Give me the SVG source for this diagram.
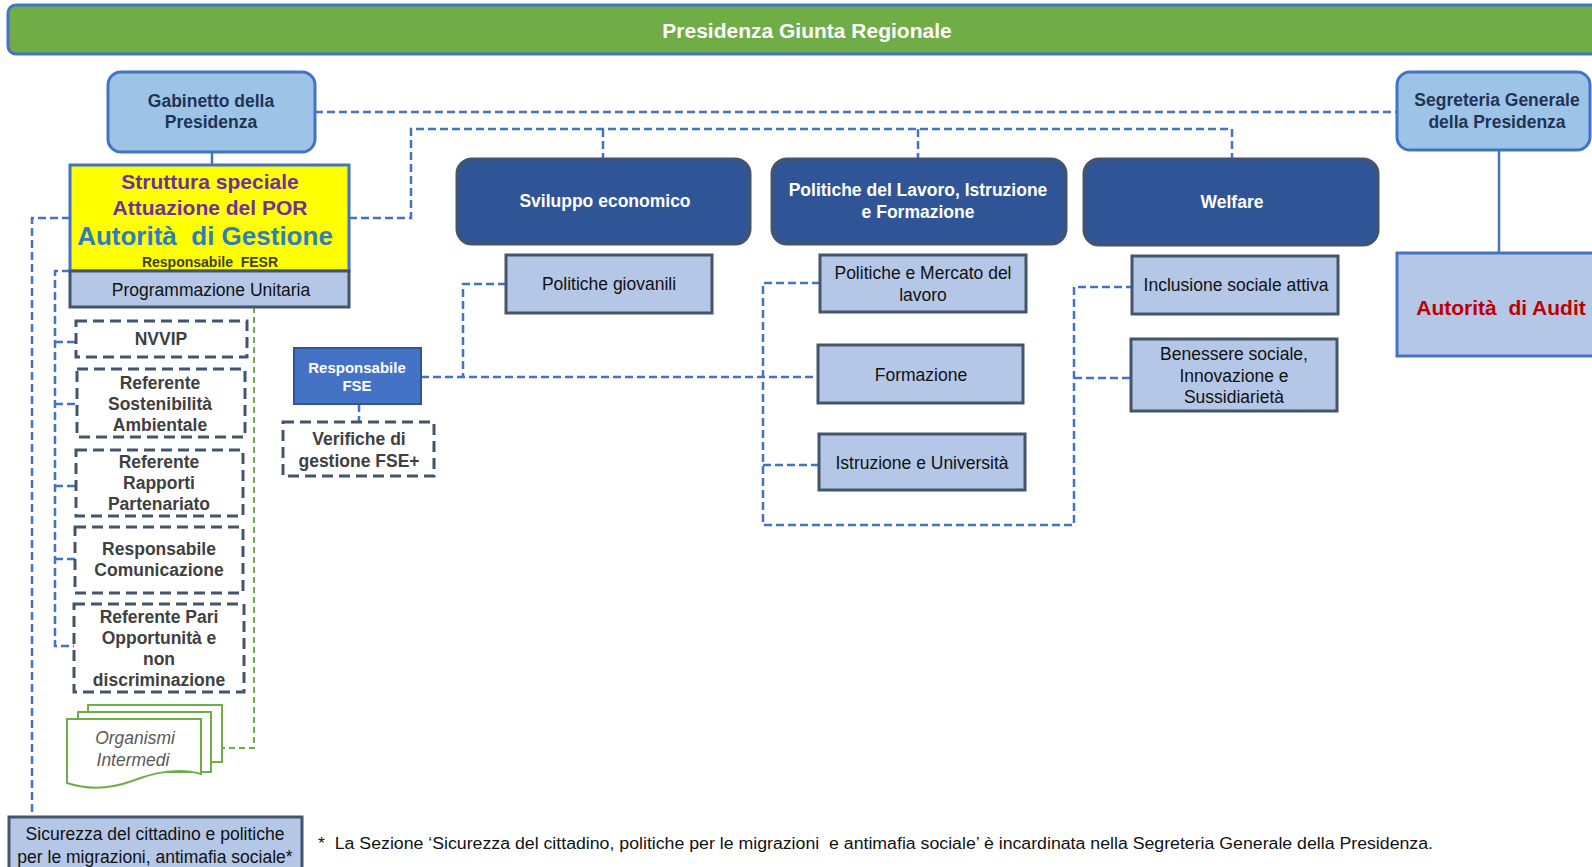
<svg xmlns="http://www.w3.org/2000/svg" width="1592" height="867" viewBox="0 0 1592 867">
  <style>
    text { font-family: "Liberation Sans", Arial, sans-serif; text-anchor: middle; dominant-baseline: central; }
    .b { font-weight: bold; }
    .head { fill: #9DC3E6; stroke: #4472C4; stroke-width: 3; }
    .dept { fill: #2F5597; stroke: #44546A; stroke-width: 3; }
    .unit { fill: #B4C7E7; stroke: #44546A; stroke-width: 3; }
    .dbox { fill: #FFFFFF; stroke: #44546A; stroke-width: 3; stroke-dasharray: 11 6; }
    .doc { fill: #FFFFFF; stroke: #70AD47; stroke-width: 2; }
    .link { fill: none; stroke: #4472C4; stroke-width: 2.5; stroke-dasharray: 8 4; }
    .solid { fill: none; stroke: #4472C4; stroke-width: 2.5; }
    .glink { fill: none; stroke: #70AD47; stroke-width: 2; stroke-dasharray: 6 4; }
    .t-head { font-size: 17.5px; font-weight: bold; fill: #223354; }
    .t-dept { font-size: 17.5px; font-weight: bold; fill: #FFFFFF; }
    .t-unit { font-size: 17.5px; fill: #111111; }
    .t-gray { font-size: 17.5px; font-weight: bold; fill: #404040; }
  </style>

  <!-- connectors -->
  <g id="connectors">
    <!-- Gabinetto to Segreteria Generale -->
    <path class="link" d="M315,112 H1397"/>
    <!-- Struttura speciale to the three departments -->
    <path class="link" d="M349,218 H411 V129 H1232"/>
    <path class="link" d="M603,129 V159"/>
    <path class="link" d="M918,129 V159"/>
    <path class="link" d="M1232,129 V159"/>
    <!-- Gabinetto to Struttura speciale -->
    <path class="solid" d="M212,152 V165"/>
    <!-- Segreteria to Autorità di Audit -->
    <path class="solid" d="M1499,150 V253"/>
    <!-- outer left line to Sicurezza -->
    <path class="link" d="M70,218 H32 V817"/>
    <!-- inner left line to staff units -->
    <path class="link" d="M70,271 H55 V646 H75"/>
    <path class="link" d="M55,342 H76"/>
    <path class="link" d="M55,404 H77"/>
    <path class="link" d="M55,486 H76"/>
    <path class="link" d="M55,559 H75"/>
    <!-- Organismi intermedi -->
    <path class="glink" d="M254,307 V748 H222"/>
    <!-- Responsabile FSE network -->
    <path class="link" d="M421,377 H818"/>
    <path class="link" d="M506,284 H463 V377"/>
    <path class="link" d="M820,283 H763 V525 H1074 V287 H1132"/>
    <path class="link" d="M763,465 H819"/>
    <path class="link" d="M1074,378 H1131"/>
    <path class="link" d="M359,404 V422"/>
  </g>

  <!-- top bar -->
  <g id="presidenza">
    <rect x="8" y="5" width="1600" height="49" rx="8" fill="#70AD47" stroke="#4472C4" stroke-width="3"/>
    <text x="807" y="30" class="b" font-size="21" fill="#FFFFFF">Presidenza Giunta Regionale</text>
  </g>

  <g id="gabinetto">
    <rect class="head" x="108" y="72" width="207" height="80" rx="13"/>
    <text class="t-head" x="211" y="101">Gabinetto della</text>
    <text class="t-head" x="211" y="122">Presidenza</text>
  </g>

  <g id="segreteria">
    <rect class="head" x="1397" y="72" width="193" height="78" rx="13"/>
    <text class="t-head" x="1497" y="100">Segreteria Generale</text>
    <text class="t-head" x="1497" y="122">della Presidenza</text>
  </g>

  <g id="audit">
    <rect x="1397" y="253" width="210" height="103" fill="#B4C7E7" stroke="#4472C4" stroke-width="3"/>
    <text x="1501" y="307" class="b" font-size="21" fill="#C00000" xml:space="preserve">Autorità  di Audit</text>
  </g>

  <g id="struttura">
    <rect x="70" y="165" width="279" height="106" fill="#FFFF00" stroke="#4472C4" stroke-width="3"/>
    <text x="210" y="181" class="b" font-size="21" fill="#7030A0">Struttura speciale</text>
    <text x="210" y="207" class="b" font-size="21" fill="#7030A0">Attuazione del POR</text>
    <text x="205" y="236" class="b" font-size="26" fill="#2E7DBF" xml:space="preserve">Autorità  di Gestione</text>
    <text x="210" y="262" class="b" font-size="14" fill="#403F26" xml:space="preserve">Responsabile  FESR</text>
  </g>

  <g id="programmazione">
    <rect class="unit" x="70" y="271" width="279" height="36"/>
    <text class="t-unit" x="211" y="290">Programmazione Unitaria</text>
  </g>

  <g id="nvvip">
    <rect class="dbox" x="76" y="321" width="171" height="36"/>
    <text class="t-gray" x="161" y="339">NVVIP</text>
  </g>

  <g id="sostenibilita">
    <rect class="dbox" x="77" y="369" width="168" height="68"/>
    <text class="t-gray" x="160" y="383">Referente</text>
    <text class="t-gray" x="160" y="404">Sostenibilità</text>
    <text class="t-gray" x="160" y="425">Ambientale</text>
  </g>

  <g id="partenariato">
    <rect class="dbox" x="76" y="450" width="167" height="66"/>
    <text class="t-gray" x="159" y="462">Referente</text>
    <text class="t-gray" x="159" y="483">Rapporti</text>
    <text class="t-gray" x="159" y="504">Partenariato</text>
  </g>

  <g id="comunicazione">
    <rect class="dbox" x="75" y="527" width="168" height="66"/>
    <text class="t-gray" x="159" y="549">Responsabile</text>
    <text class="t-gray" x="159" y="570">Comunicazione</text>
  </g>

  <g id="pari-opportunita">
    <rect class="dbox" x="74" y="604" width="170" height="88"/>
    <text class="t-gray" x="159" y="617">Referente Pari</text>
    <text class="t-gray" x="159" y="638">Opportunità e</text>
    <text class="t-gray" x="159" y="659">non</text>
    <text class="t-gray" x="159" y="680">discriminazione</text>
  </g>

  <g id="organismi">
    <rect class="doc" x="88" y="705" width="134" height="57"/>
    <rect class="doc" x="78" y="712" width="133" height="60"/>
    <path class="doc" d="M67,719 H201 V774 C178,767 155,772 132,781 C110,789 88,790 67,783 Z"/>
    <text x="135" y="738" font-size="17.5" font-style="italic" fill="#595959">Organismi</text>
    <text x="133" y="760" font-size="17.5" font-style="italic" fill="#595959">Intermedi</text>
  </g>

  <g id="sicurezza">
    <rect class="unit" x="9" y="817" width="293" height="60"/>
    <text class="t-unit" x="155" y="834">Sicurezza del cittadino e politiche</text>
    <text class="t-unit" x="155" y="857">per le migrazioni, antimafia sociale*</text>
  </g>

  <g id="responsabile-fse">
    <rect x="294" y="348" width="127" height="56" fill="#4472C4" stroke="#2F5597" stroke-width="2"/>
    <text x="357" y="367" class="b" font-size="15" fill="#FFFFFF">Responsabile</text>
    <text x="357" y="385" class="b" font-size="15" fill="#FFFFFF">FSE</text>
  </g>

  <g id="verifiche">
    <rect class="dbox" x="283" y="422" width="151" height="54"/>
    <text class="t-gray" x="359" y="439">Verifiche di</text>
    <text class="t-gray" x="359" y="461">gestione FSE+</text>
  </g>

  <g id="sviluppo">
    <rect class="dept" x="457" y="159" width="293" height="85" rx="15"/>
    <text class="t-dept" x="605" y="201">Sviluppo economico</text>
  </g>

  <g id="lavoro">
    <rect class="dept" x="772" y="159" width="294" height="85" rx="15"/>
    <text class="t-dept" x="918" y="190">Politiche del Lavoro, Istruzione</text>
    <text class="t-dept" x="918" y="212">e Formazione</text>
  </g>

  <g id="welfare">
    <rect class="dept" x="1084" y="159" width="294" height="86" rx="15"/>
    <text class="t-dept" x="1232" y="202">Welfare</text>
  </g>

  <g id="politiche-giovanili">
    <rect class="unit" x="506" y="255" width="206" height="58"/>
    <text class="t-unit" x="609" y="284">Politiche giovanili</text>
  </g>

  <g id="mercato-lavoro">
    <rect class="unit" x="820" y="255" width="206" height="57"/>
    <text class="t-unit" x="923" y="273">Politiche e Mercato del</text>
    <text class="t-unit" x="923" y="295">lavoro</text>
  </g>

  <g id="formazione">
    <rect class="unit" x="818" y="345" width="205" height="58"/>
    <text class="t-unit" x="921" y="375">Formazione</text>
  </g>

  <g id="istruzione">
    <rect class="unit" x="819" y="434" width="206" height="56"/>
    <text class="t-unit" x="922" y="463">Istruzione e Università</text>
  </g>

  <g id="inclusione">
    <rect class="unit" x="1132" y="256" width="206" height="58"/>
    <text class="t-unit" x="1236" y="285">Inclusione sociale attiva</text>
  </g>

  <g id="benessere">
    <rect class="unit" x="1131" y="339" width="206" height="72"/>
    <text class="t-unit" x="1234" y="354">Benessere sociale,</text>
    <text class="t-unit" x="1234" y="376">Innovazione e</text>
    <text class="t-unit" x="1234" y="397">Sussidiarietà</text>
  </g>

  <!-- footnote -->
  <text x="318" y="843" font-size="16" fill="#111111" style="text-anchor:start" textLength="1115" lengthAdjust="spacingAndGlyphs" xml:space="preserve">*  La Sezione ‘Sicurezza del cittadino, politiche per le migrazioni  e antimafia sociale’ è incardinata nella Segreteria Generale della Presidenza.</text>
</svg>
